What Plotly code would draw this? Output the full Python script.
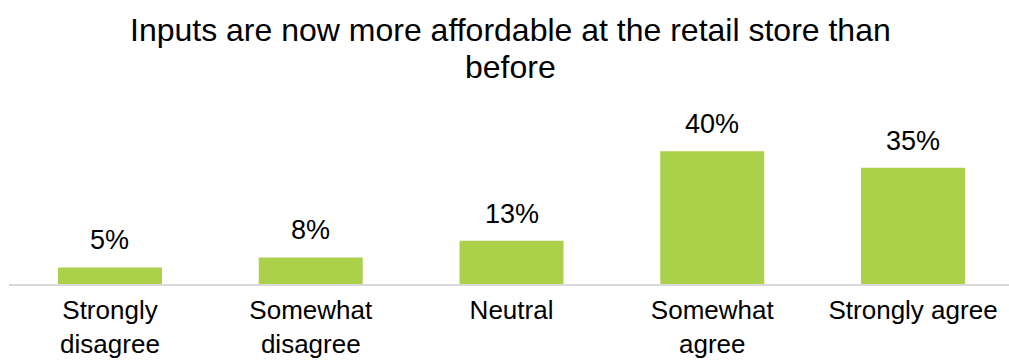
import plotly.graph_objects as go

categories = ["Strongly<br>disagree", "Somewhat<br>disagree", "Neutral", "Somewhat<br>agree", "Strongly agree"]
values = [5, 8, 13, 40, 35]
labels = ["5%", "8%", "13%", "40%", "35%"]
title_lines = ["Inputs are now more affordable at the retail store than", "before"]

FONT = "Liberation Sans, Arial, sans-serif"

fig = go.Figure(go.Bar(
    x=list(range(len(categories))), y=values,
    marker=dict(color="#abd04a", line=dict(width=0)),
    hoverinfo="skip",
))

for i, (v, t) in enumerate(zip(values, labels)):
    fig.add_annotation(x=i, y=v, text=t, showarrow=False, xref="x", yref="y",
                       yanchor="bottom", yshift=10,
                       font=dict(family=FONT, size=27, color="#000000"))

for ln, py in zip(title_lines, [30, 67]):
    fig.add_annotation(x=0.501, y=(284 - py) / 166, xref="paper", yref="paper",
                       text=ln, showarrow=False, yanchor="middle", xanchor="center",
                       font=dict(family=FONT, size=32, color="#000000"))

fig.update_layout(
    width=1009, height=360,
    margin=dict(l=9, r=0, t=118, b=76, autoexpand=False),
    paper_bgcolor="white", plot_bgcolor="white",
    bargap=0.482,
    showlegend=False,
    xaxis=dict(range=[-0.503, 4.478], tickmode="array", automargin=False,
               tickvals=list(range(len(categories))), ticktext=categories,
               showline=True, linecolor="#d9d9d9", linewidth=2, ticks="",
               ticklabelstandoff=2,
               tickfont=dict(family=FONT, size=26, color="#000000"), showgrid=False),
    yaxis=dict(range=[0, 50], visible=False, showgrid=False, zeroline=False, automargin=False),
)

fig.write_html("out.html")
